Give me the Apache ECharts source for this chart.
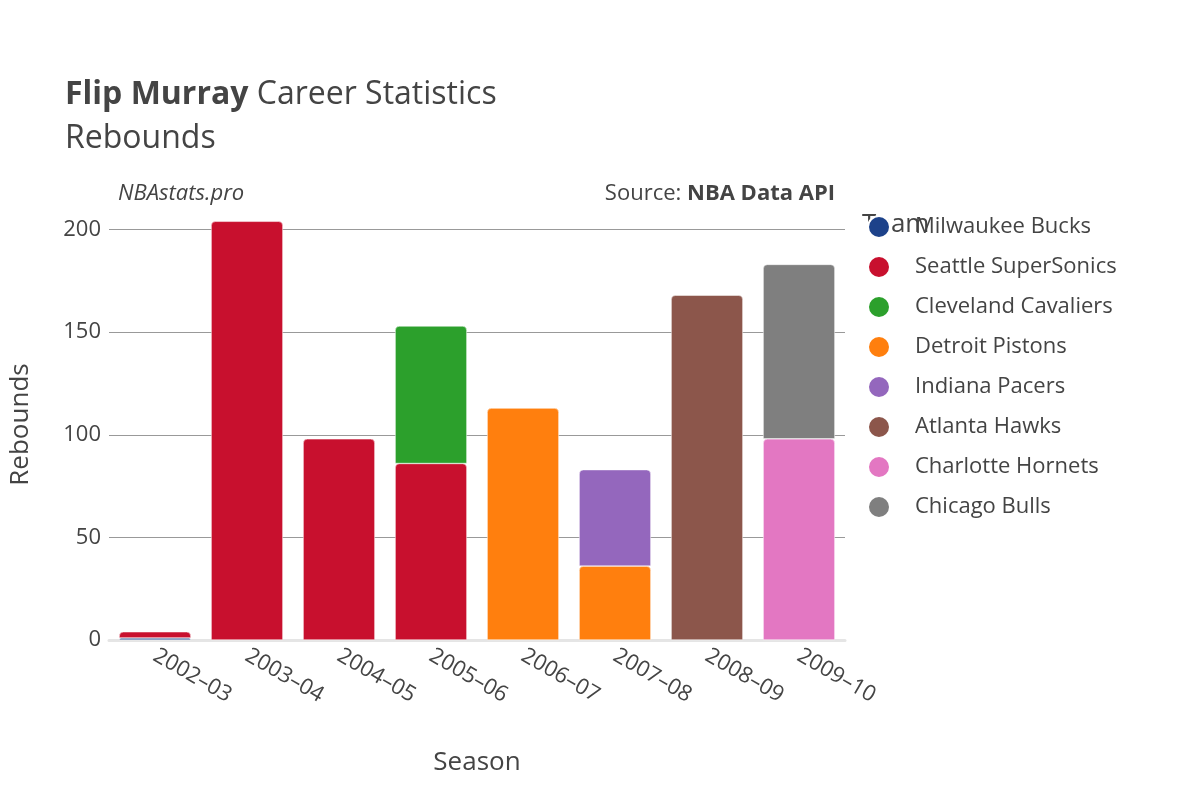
<!DOCTYPE html>
<html><head><meta charset="utf-8">
<script src="https://cdn.jsdelivr.net/npm/echarts@6/dist/echarts.min.js"></script>
<style>html,body{margin:0;background:#fff}#main{width:1200px;height:800px}</style>
</head><body><div id="main"></div>
<script>
var seasons = ['2002–03','2003–04','2004–05','2005–06','2006–07','2007–08','2008–09','2009–10'];
var teams = ['Milwaukee Bucks','Seattle SuperSonics','Cleveland Cavaliers','Detroit Pistons','Indiana Pacers','Atlanta Hawks','Charlotte Hornets','Chicago Bulls'];
var colors = ['#1d428a','#c8102e','#2ca02c','#ff7f0e','#9467bd','#8c564b','#e377c2','#7f7f7f'];
var bucks     = [1, null, null, null, null, null, null, null];
var sonics    = [3, 204, 98, 86, null, null, null, null];
var cavaliers = [null, null, null, 67, null, null, null, null];
var pistons   = [null, null, null, null, 113, 36, null, null];
var pacers    = [null, null, null, null, null, 47, null, null];
var hawks     = [null, null, null, null, null, null, 168, null];
var hornets   = [null, null, null, null, null, null, null, 98];
var bulls     = [null, null, null, null, null, null, null, 85];
var values = [bucks, sonics, cavaliers, pistons, pacers, hawks, hornets, bulls];

var chart = echarts.init(document.getElementById('main'));
var series = [];
for (var i = 0; i < teams.length; i++) {
  series.push({
    name: teams[i], type: 'bar', stack: 'a', barWidth: '78%',
    data: values[i],
    itemStyle: {color: colors[i], borderColor: '#fff', borderWidth: 0.5, borderRadius: [4, 4, 0, 0]}
  });
}
chart.setOption({
  textStyle: {fontFamily: 'Open Sans'},
  title: [
    {text: '{b|Flip Murray} Career Statistics\nRebounds', left: 60, top: 68,
     textStyle: {fontSize: 32, fontWeight: 'normal', color: '#444', lineHeight: 44,
       rich: {b: {fontSize: 32, fontWeight: 'bold', color: '#444'}}}},
    {text: 'NBAstats.pro', left: 113, top: 178, textStyle: {fontSize: 22, fontStyle: 'italic', fontWeight: 'normal', color: '#444'}},
    {text: 'Source: {b|NBA Data API}', right: 360, top: 178,
     textStyle: {fontSize: 22, fontWeight: 'normal', color: '#444', rich: {b: {fontSize: 22, fontWeight: 'bold', color: '#444'}}}}
  ],
  legend: {
    orient: 'vertical', left: 862, top: 210, icon: 'circle', itemWidth: 22, itemHeight: 22, itemGap: 16,
    data: teams, textStyle: {fontSize: 22, color: '#444', padding: [0, 0, 0, 20]},
    formatter: function (n) { return n; }
  },
  graphic: [{type: 'text', left: 862, top: 212, style: {text: 'Team', fontSize: 26, fill: '#444', fontFamily: 'Open Sans'}}],
  grid: {left: 108, right: 355, top: 209, bottom: 160},
  xAxis: {
    type: 'category', data: seasons, name: 'Season', nameLocation: 'middle', nameGap: 110,
    nameTextStyle: {fontSize: 26, color: '#444'},
    axisLine: {show: true, lineStyle: {color: '#e5e5e5', width: 3}}, axisTick: {show: false},
    axisLabel: {rotate: -30, fontSize: 22, color: '#444', margin: 14}
  },
  yAxis: {
    type: 'value', min: 0, max: 210, interval: 50, name: 'Rebounds', nameLocation: 'middle', nameGap: 75,
    nameTextStyle: {fontSize: 26, color: '#444'},
    axisLabel: {fontSize: 22, color: '#444', showMaxLabel: false},
    splitLine: {showMaxLine: false, lineStyle: {color: '#999'}}
  },
  series: series
});
</script></body></html>
